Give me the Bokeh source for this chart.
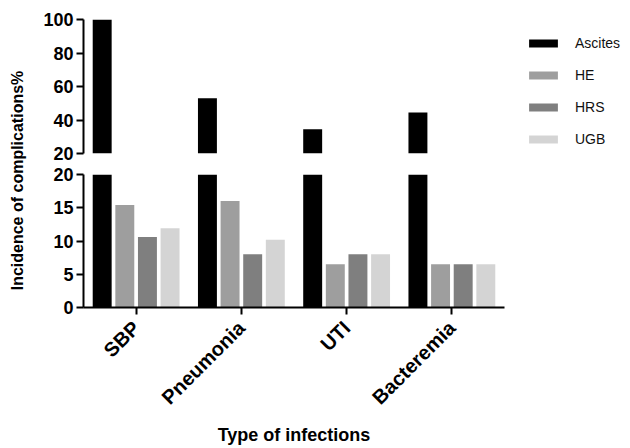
import math
from bokeh.plotting import figure
from bokeh.layouts import row, column
from bokeh.models import (Range1d, FactorRange, FixedTicker, Legend, LegendItem,
                          Label, ColumnDataSource, CDSView, BooleanFilter)
from bokeh.transform import dodge
from bokeh.embed import file_html
from bokeh.resources import INLINE

# ---- data ----
infections = ["SBP", "Pneumonia", "UTI", "Bacteremia"]
series_names = ["Ascites", "HE", "HRS", "UGB"]
ascites = [100, 53, 34.5, 44.5]
he = [15.4, 16, 6.5, 6.5]
hrs = [10.6, 8, 8, 6.5]
ugb = [11.9, 10.2, 8, 6.5]
top_ticks = [20, 40, 60, 80, 100]
bottom_ticks = [0, 5, 10, 15, 20]
break_value = 20
y_label = "Incidence of complications%"
x_label = "Type of infections"

colors = ["#000000", "#9e9e9e", "#7f7f7f", "#d4d4d4"]
offsets = [-0.3225, -0.1075, 0.1075, 0.3225]
FONT = "Liberation Sans"

series_values = dict(Ascites=ascites, HE=he, HRS=hrs, UGB=ugb)
source = ColumnDataSource(dict(x=infections, **series_values))
xr = FactorRange(*infections)


def style_yaxis(p, ticks):
    ax = p.yaxis[0]
    ax.ticker = FixedTicker(ticks=ticks)
    ax.bounds = (ticks[0], ticks[-1])
    ax.minor_tick_line_color = None
    ax.major_tick_in = 0
    ax.major_tick_out = 7
    ax.major_tick_line_width = 2
    ax.axis_line_width = 2
    ax.axis_line_color = "black"
    ax.major_tick_line_color = "black"
    ax.major_label_text_font = FONT
    ax.major_label_text_font_style = "bold"
    ax.major_label_text_font_size = "18px"
    ax.major_label_text_color = "black"
    ax.major_label_standoff = 3


# ---- top panel (20-100): only the bars that pass the break are drawn ----
p_top = figure(x_range=xr, y_range=Range1d(top_ticks[0], top_ticks[-1]), frame_width=421,
               frame_height=134, min_border_left=55, min_border_right=120, min_border_top=19,
               min_border_bottom=10, x_axis_location=None, output_backend="svg",
               toolbar_location=None, outline_line_color=None)
p_top.grid.visible = False
style_yaxis(p_top, top_ticks)

for name, off, c in zip(series_names, offsets, colors):
    view = CDSView(filter=BooleanFilter([v > break_value for v in series_values[name]]))
    p_top.vbar(x=dodge("x", off, range=xr), top=name, bottom=0, width=0.18,
               source=source, view=view, fill_color=c, line_color=None)

# legend swatches (no marks inside the plot area)
legend_src = ColumnDataSource(dict(x=[infections[0]], top=[float("nan")]))
proxies = [p_top.vbar(x="x", top="top", bottom=0, width=0.18, source=legend_src,
                      fill_color=c, line_color=None) for c in colors]

legend = Legend(items=[LegendItem(label=n, renderers=[r]) for n, r in zip(series_names, proxies)],
                location=(21, 4), margin=0, padding=0, glyph_width=36, glyph_height=10,
                label_height=20, spacing=12, label_standoff=14, border_line_color=None,
                background_fill_alpha=0, label_text_font=FONT, label_text_font_size="14px",
                label_text_color="#111111")
p_top.add_layout(legend, "right")

# ---- bottom panel (0-20) ----
p_bot = figure(x_range=xr, y_range=Range1d(bottom_ticks[0], bottom_ticks[-1]), frame_width=421,
               frame_height=133, min_border_left=55, min_border_right=120, min_border_top=11,
               min_border_bottom=0, output_backend="svg", toolbar_location=None,
               outline_line_color=None, x_axis_label=x_label)
p_bot.grid.visible = False
style_yaxis(p_bot, bottom_ticks)
for name, off, c in zip(series_names, offsets, colors):
    p_bot.vbar(x=dodge("x", off, range=xr), top=name, bottom=0, width=0.18,
               source=source, fill_color=c, line_color=None)

xa = p_bot.xaxis[0]
xa.major_label_orientation = math.pi / 4
xa.major_label_text_font = FONT
xa.major_label_text_font_style = "bold"
xa.major_label_text_font_size = "20px"
xa.major_label_text_color = "black"
xa.major_label_standoff = 10
xa.axis_line_width = 2
xa.axis_line_color = "black"
xa.major_tick_in = 0
xa.major_tick_out = 7
xa.major_tick_line_width = 2
xa.major_tick_line_color = "black"
xa.minor_tick_line_color = None
xa.axis_label_text_font = FONT
xa.axis_label_text_font_style = "bold"
xa.axis_label_text_font_size = "18px"
xa.axis_label_text_color = "black"
xa.axis_label_standoff = 6

# ---- y label column ----
p_lab = figure(width=28, height=432, x_range=Range1d(0, 28), y_range=Range1d(0, 432),
               min_border=0, x_axis_location=None, y_axis_location=None,
               output_backend="svg", toolbar_location=None, outline_line_color=None)
p_lab.grid.visible = False
p_lab.add_layout(Label(x=17, y=252, text=y_label, angle=math.pi / 2, text_align="center",
                       text_baseline="middle", text_font=FONT, text_font_style="bold",
                       text_font_size="16px", text_color="black"))

layout = row(p_lab, column(p_top, p_bot))

with open("out.html", "w") as f:
    f.write(file_html(layout, INLINE))
